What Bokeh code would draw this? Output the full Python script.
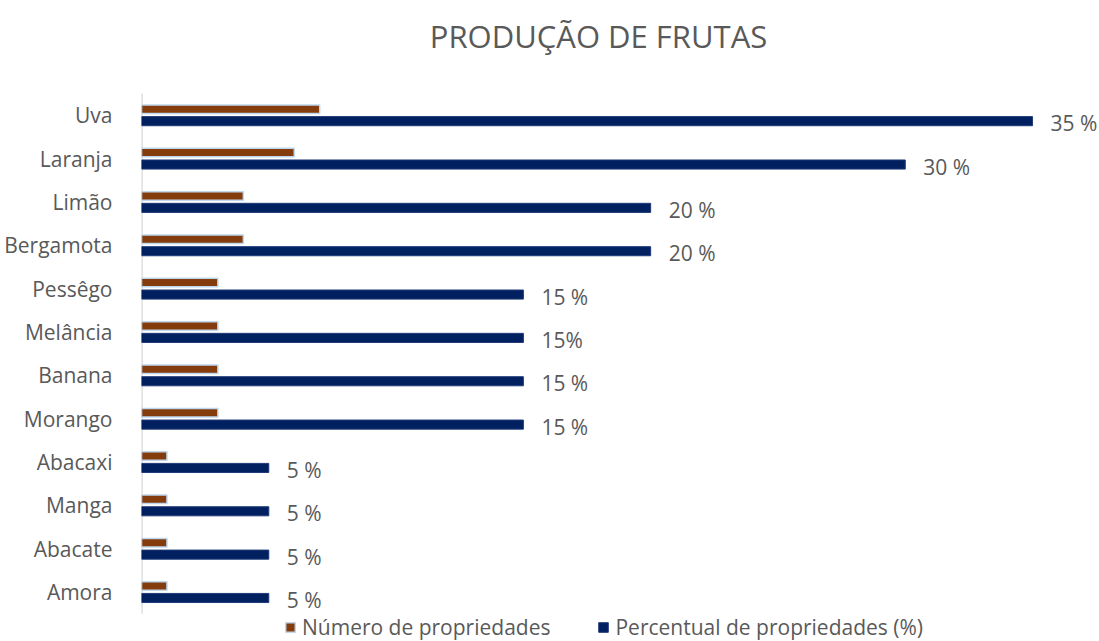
from bokeh.plotting import figure
from bokeh.models import (ColumnDataSource, Range1d, LabelSet, Label, Legend, LegendItem,
                          FixedTicker)
from bokeh.transform import dodge
from bokeh.core.properties import value
from bokeh.embed import file_html
from bokeh.resources import INLINE

categories = ["Uva", "Laranja", "Limão", "Bergamota", "Pessêgo", "Melância",
              "Banana", "Morango", "Abacaxi", "Manga", "Abacate", "Amora"]
numero = [7, 6, 4, 4, 3, 3, 3, 3, 1, 1, 1, 1]
percentual = [35, 30, 20, 20, 15, 15, 15, 15, 5, 5, 5, 5]
percent_labels = ["35 %", "30 %", "20 %", "20 %", "15 %", "15%", "15 %", "15 %",
                  "5 %", "5 %", "5 %", "5 %"]
series_names = ["Número de propriedades", "Percentual de propriedades (%)"]
title_text = "PRODUÇÃO DE FRUTAS"

FONT = "Open Sans"
GRAY = "#595959"
BROWN = "#843C0C"
NAVY = "#002060"

n = len(categories)
ypos = [n - 1 - i for i in range(n)]  # first category on top

src = ColumnDataSource(dict(y=ypos, cat=categories, num=numero, pct=percentual,
                            lab=percent_labels))

p = figure(width=1099, height=641, output_backend="svg", toolbar_location=None,
           x_range=Range1d(0, 37.63), y_range=Range1d(-1.142, 13.646),
           min_border_left=141, min_border_right=0, min_border_top=0, min_border_bottom=0,
           outline_line_color=None)

# category axis line (light gray), spanning the category bands only
p.segment(x0=[0], y0=[-0.5], x1=[0], y1=[n - 0.5], line_color="#D9D9D9", line_width=2.5)

r1 = p.hbar(y=dodge("y", 0.138), right="num", left=0, height=0.196,
            source=src, fill_color=BROWN, line_color="#BDD7EE", line_width=1.5)
r2 = p.hbar(y=dodge("y", -0.138), right="pct", left=0, height=0.21,
            source=src, fill_color=NAVY, line_color="#1F3A78", line_width=1)

labels = LabelSet(x="pct", y=dodge("y", -0.138), text="lab", source=src,
                  x_offset=18, y_offset=-2, text_baseline="middle", text_align="left",
                  text_font=value(FONT), text_font_size="21px", text_color=GRAY)
p.add_layout(labels)

p.xaxis.visible = False
p.xgrid.grid_line_color = None
p.ygrid.grid_line_color = None
p.yaxis.ticker = FixedTicker(ticks=ypos)
p.yaxis.major_label_overrides = {y: c for y, c in zip(ypos, categories)}
p.yaxis.major_tick_line_color = None
p.yaxis.minor_tick_line_color = None
p.yaxis.axis_line_color = None
p.yaxis.major_label_standoff = 23
p.yaxis.major_label_text_font = FONT
p.yaxis.major_label_text_font_size = "21px"
p.yaxis.major_label_text_color = GRAY

title = Label(x=457, y=606, x_units="screen", y_units="screen", text=title_text,
              text_align="center", text_baseline="alphabetic",
              text_font=FONT, text_font_size="31px", text_color=GRAY)
p.add_layout(title)

legend = Legend(items=[LegendItem(label=series_names[0], renderers=[r1]),
                       LegendItem(label=series_names[1], renderers=[r2])],
                orientation="horizontal", location=(143, 0),
                glyph_width=12, glyph_height=12, label_standoff=6, spacing=47,
                padding=0, margin=0, border_line_color=None, background_fill_alpha=0,
                label_text_font=FONT, label_text_font_size="21px", label_text_color=GRAY,
                label_height=20)
p.add_layout(legend, "center")

open("out.html", "w").write(file_html(p, INLINE))
